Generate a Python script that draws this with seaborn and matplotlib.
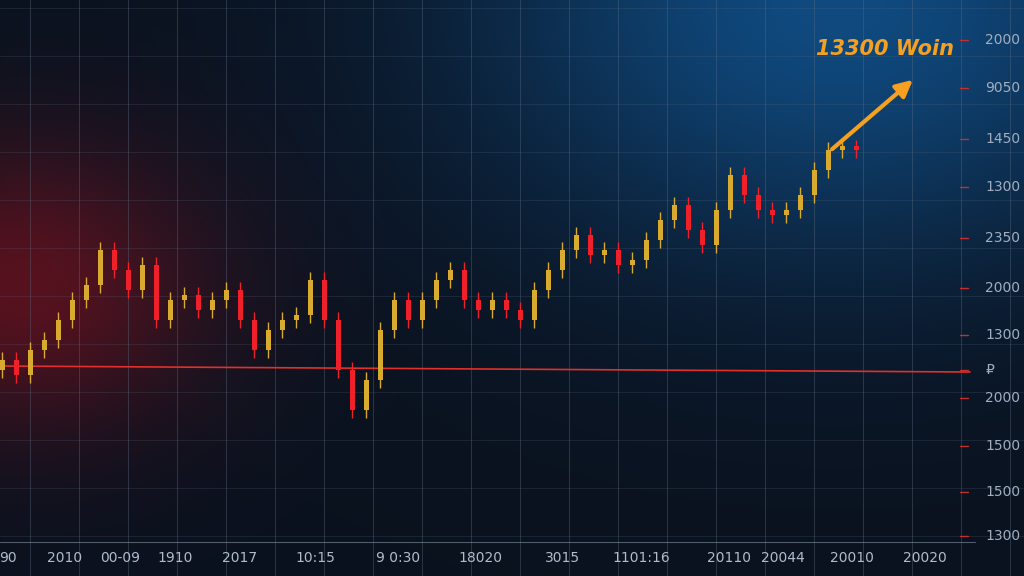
import numpy as np
import matplotlib
matplotlib.use("Agg")
import matplotlib.pyplot as plt
import seaborn as sns

# closing levels (higher = up)
closes = [216, 201, 226, 236, 256, 276, 291, 326, 306, 286, 311, 256, 276, 281, 266,
          276, 286, 256, 226, 246, 256, 261, 296, 256, 206, 166, 196, 246, 276, 256,
          276, 296, 306, 276, 266, 276, 266, 256, 286, 306, 326, 341, 321, 326, 311,
          316, 336, 356, 371, 346, 331, 366, 401, 381, 366, 361, 366, 381, 406, 426,
          428, 426]
right_labels = ["2000", "9050", "1450", "1300", "2350", "2000", "1300", "₽", "2000", "1500", "1500", "1300"]
right_pos = [536, 488, 437, 389, 338, 288, 241, 206, 178, 130, 84, 40]
bottom_labels = ["90", "2010", "00-09", "1910", "2017", "10:15", "9 0:30", "18020", "3015",
                 "1101:16", "20110", "20044", "20010", "20020"]
bottom_pos = [8, 65, 120, 175, 240, 315, 398, 480, 563, 641, 729, 783, 852, 925]

sns.set_style("dark")
plt.rcParams['font.family'] = ['DejaVu Sans']

fig = plt.figure(figsize=(10.24, 5.76), dpi=100)
ax = fig.add_axes([0, 0, 1, 1])

# background gradient
gx, gy = np.meshgrid(np.linspace(0, 1, 256), np.linspace(0, 1, 144))
base = np.array([0.04, 0.07, 0.12])
blue = np.exp(-(((gx - 0.82) / 0.35) ** 2 + ((gy - 0.0) / 0.45) ** 2))
red = np.exp(-(((gx - 0.02) / 0.18) ** 2 + ((gy - 0.5) / 0.25) ** 2))
img = np.zeros(gx.shape + (3,))
for i in range(3):
    img[..., i] = base[i] + blue * [0.02, 0.22, 0.38][i] + red * [0.30, 0.0, 0.0][i]
img = np.clip(img, 0, 1)
ax.imshow(img, extent=[0, 1024, 0, 576], aspect="auto", zorder=0)

for x in np.arange(30, 1024, 49):
    ax.axvline(x, color="#5a6a80", lw=0.7, alpha=0.4, zorder=1)
for y in np.arange(40, 576, 48):
    ax.axhline(y, color="#5a6a80", lw=0.6, alpha=0.25, zorder=1)
ax.plot([0, 970], [210, 204], color="#e0302a", lw=1.2, zorder=2)
ax.plot([0, 975], [34, 34], color="#8090a0", lw=0.8, alpha=0.6, zorder=2)

xs = np.arange(len(closes)) * 14 + 2
opens = [closes[0] - 10] + closes[:-1]
for x, o, c in zip(xs, opens, closes):
    col = "#d8aa30" if c >= o else "#f0202a"
    lo, hi = min(o, c), max(o, c)
    ax.vlines(x, lo - 8, hi + 8, color=col, lw=1, zorder=3)
    ax.bar(x, max(hi - lo, 4), bottom=lo, width=5, color=col, edgecolor="none", linewidth=0, zorder=3)

for lab, y in zip(right_labels, right_pos):
    ax.text(985, y, lab, color="#a0aec0", fontsize=10, va="center", zorder=4)
    ax.plot([960, 968], [y, y], color="#c03030", lw=1, zorder=4)
for lab, x in zip(bottom_labels, bottom_pos):
    ax.text(x, 18, lab, color="#b0bccc", fontsize=10, ha="center", va="center", zorder=4)

ax.annotate("", xy=(915, 498), xytext=(830, 425),
            arrowprops=dict(arrowstyle="-|>,head_width=0.5,head_length=1", color="#f5a020", lw=3), zorder=5)
ax.text(885, 527, "13300 Woin", color="#f5a020", fontsize=15, fontweight="bold",
        style="italic", ha="center", va="center", zorder=5)

ax.set_xlim(0, 1024)
ax.set_ylim(0, 576)
ax.axis("off")
fig.savefig("out.png", dpi=100)
